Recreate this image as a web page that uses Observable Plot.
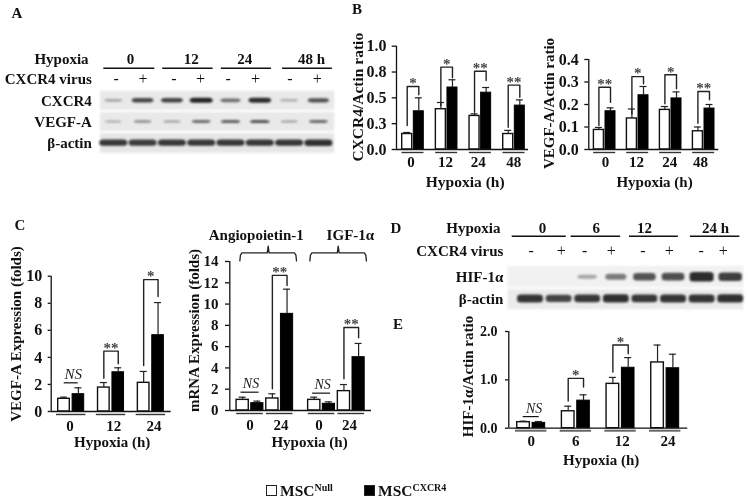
<!DOCTYPE html>
<html>
<head>
<meta charset="utf-8">
<script src="https://cdn.jsdelivr.net/npm/d3@7"></script>
<script src="https://cdn.jsdelivr.net/npm/@observablehq/plot@0.6"></script>
<style>
html,body{margin:0;padding:0;background:#fff;}
#page{position:relative;width:748px;height:500px;overflow:hidden;font-family:"Liberation Serif",serif;font-weight:bold;color:#111;filter:blur(0.3px);background:#fff;}
#page svg{position:absolute;overflow:visible;background:transparent;}
.tag{position:absolute;font-size:15px;line-height:1;transform:translate(-50%,-50%);}
.swatch{position:absolute;width:9px;height:9px;border:1.4px solid #222;}
.lg{position:absolute;font-size:15.5px;line-height:1;white-space:nowrap;}
.lg sup{font-size:10px;vertical-align:baseline;position:relative;top:-5px;}
</style>
</head>
<body>
<div id="page"></div>
<script>
// ---------- Panel B, CXCR4 ----------
const b1Groups = ["0","12","24","48"];
const b1Null = [0.15,0.39,0.325,0.15];
const b1NullErr = [0.165,0.455,0.345,0.185];
const b1Virus = [0.37,0.60,0.55,0.425];
const b1VirusErr = [0.50,0.675,0.60,0.48];
const b1BracketGroup = [0,1,2,3];
const b1BracketTop = [0.61,0.797,0.758,0.623];
const b1BracketLeft = [0.232,0.426,0.361,0.216];
const b1BracketRight = [0.529,0.694,0.668,0.506];
const b1Marks = ["*","*","**","**"];
// ---------- Panel B, VEGF-A ----------
const b2Groups = ["0","12","24","48"];
const b2Null = [0.087,0.138,0.176,0.081];
const b2NullErr = [0.098,0.18,0.191,0.10];
const b2Virus = [0.17,0.241,0.227,0.182];
const b2VirusErr = [0.185,0.28,0.256,0.20];
const b2BracketGroup = [0,1,2,3];
const b2BracketTop = [0.277,0.324,0.332,0.258];
const b2BracketLeft = [0.107,0.159,0.203,0.117];
const b2BracketRight = [0.21,0.292,0.27,0.221];
const b2Marks = ["**","*","*","**"];
// ---------- Panel C, VEGF-A ----------
const c1Groups = ["0","12","24"];
const c1Null = [0.94,1.77,2.12];
const c1NullErr = [1.06,2.14,2.96];
const c1Virus = [1.28,2.9,5.64];
const c1VirusErr = [1.75,3.23,8.05];
const c1BracketGroup = [1,2];
const c1BracketTop = [4.46,9.75];
const c1BracketLeft = [2.46,3.4];
const c1BracketRight = [3.52,8.5];
const c1Marks = ["**","*"];
const c1NsGroup = [0];
const c1NsLevel = [2.12];
// ---------- Panel C, mRNA ----------
const c2Groups = ["0","24","0","24"];
const c2Null = [1.0,1.13,1.0,1.82];
const c2NullErr = [1.25,1.57,1.25,2.44];
const c2Virus = [0.69,9.08,0.63,5.01];
const c2VirusErr = [0.88,11.4,0.81,6.3];
const c2BracketGroup = [1,3];
const c2BracketTop = [12.7,7.8];
const c2BracketLeft = [2.04,2.98];
const c2BracketRight = [11.74,6.83];
const c2Marks = ["**","**"];
const c2NsGroup = [0,2];
const c2NsLevel = [1.72,1.63];
const c2Genes = ["Angiopoietin-1","IGF-1α"];
// ---------- Panel E, HIF-1α ----------
const eGroups = ["0","6","12","24"];
const eNull = [0.124,0.35,0.917,1.36];
const eNullErr = [0.145,0.455,1.05,1.72];
const eVirus = [0.11,0.57,1.25,1.24];
const eVirusErr = [0.138,0.69,1.46,1.53];
const eBracketGroup = [1,2];
const eBracketTop = [1.03,1.72];
const eBracketLeft = [0.56,1.16];
const eBracketRight = [0.85,1.54];
const eMarks = ["*","*"];
const eNsGroup = [0];
const eNsLevel = [0.24];
// ---------- Blots, band strength per lane ----------
const aCxcr4Bands = [0.22,0.78,0.8,1,0.55,0.95,0.18,0.72];
const aVegfBands = [0.2,0.38,0.3,0.58,0.65,0.72,0.3,0.58];
const aActinBands = [0.88,0.85,0.88,0.88,0.88,0.88,0.88,0.92];
const dHifBands = [0,0,0.25,0.5,0.72,0.75,0.95,0.85];
const dActinBands = [0.9,0.8,0.88,0.92,0.88,0.9,0.9,0.92];
const blotSigns = ["-","+","-","+","-","+","-","+"];
const aHours = ["0","12","24","48 h"];
const dHours = ["0","6","12","24 h"];

const page = document.getElementById("page");
const FONT = '"Liberation Serif", serif';

function place(plot, box){
  plot.style.left = box[0] + "px";
  plot.style.top = box[1] + "px";
  page.appendChild(plot);
}

function barPanel(d, L){
  const [bl,bt,br,bb] = L.box;
  const u = px => (px - L.g0) / L.step;
  const off = L.off / L.step, hw = L.half / L.step, cap = L.cap / L.step, ul = L.under / L.step;
  const pos = L.positions || d.groups.map((_,i)=>i);
  const nullRows = pos.map((p,i)=>({p:p-off,v:d.nul[i],e:d.nulErr[i]}));
  const virusRows = pos.map((p,i)=>({p:p+off,v:d.vir[i],e:d.virErr[i]}));
  const allRows = nullRows.concat(virusRows);
  const brackets = d.brGroup.flatMap((g,i)=>[
    {id:i,x:pos[g]-off,y:d.brLeft[i]},{id:i,x:pos[g]-off,y:d.brTop[i]},
    {id:i,x:pos[g]+off,y:d.brTop[i]},{id:i,x:pos[g]+off,y:d.brRight[i]}]);
  const stars = d.brGroup.map((g,i)=>({x:pos[g],y:d.brTop[i],t:d.marks[i]}));
  const ns = (d.nsGroup||[]).map((g,i)=>({x:pos[g],y:d.nsLevel[i]}));
  const label = (t,px,py,rot) => Plot.text([t],{frameAnchor:"top-left",dx:px-L.axisX,dy:py-L.yTop,
    textAnchor:"middle",lineAnchor:"middle",rotate:rot||0,fontSize:L.titleSize||15,fontWeight:"bold",fill:"#111"});
  const marks = [
    Plot.rectY(nullRows,{x1:r=>r.p-hw,x2:r=>r.p+hw,y1:0,y2:"v",fill:"white",stroke:"#111",strokeWidth:1.4}),
    Plot.rectY(virusRows,{x1:r=>r.p-hw,x2:r=>r.p+hw,y1:0,y2:"v",fill:"#000",stroke:"#000",strokeWidth:1}),
    Plot.ruleX(allRows,{x:"p",y1:"v",y2:"e",stroke:"#222",strokeWidth:1.2}),
    Plot.ruleY(allRows,{y:"e",x1:r=>r.p-cap,x2:r=>r.p+cap,stroke:"#222",strokeWidth:1.2}),
    Plot.ruleX([u(L.axisX)],{y1:0,y2:d.max,stroke:"#111",strokeWidth:1.3}),
    Plot.ruleY([0],{x1:u(L.axisX),x2:u(L.right),stroke:"#111",strokeWidth:1.3}),
    Plot.ruleY(pos,{y:0,x1:p=>p-ul,x2:p=>p+ul,dy:L.underDy||3,stroke:L.underColor||"#333",strokeWidth:L.underWidth||1.4}),
    Plot.axisY({anchor:"left",ticks:d.ticks,tickFormat:d.fmt,tickSize:L.tickSize,tickPadding:L.tickPad,
      label:null,fontSize:L.tickFont,fontWeight:"bold",strokeWidth:1.3,stroke:"#111",fill:"#111"}),
    Plot.axisX({anchor:"bottom",ticks:L.labelAt,tickFormat:(_,i)=>d.groups[i],tickSize:0,tickPadding:L.xPad,
      label:null,fontSize:15,fontWeight:"bold",fill:"#111"}),
    Plot.line(brackets,{x:"x",y:"y",z:"id",stroke:"#222",strokeWidth:1.4}),
    Plot.text(stars,{x:"x",y:"y",text:"t",dy:L.starDy||-3,fontSize:15,fontWeight:"bold",fill:"#444",lineAnchor:"middle"}),
    Plot.ruleY(ns,{y:"y",x1:r=>r.x-L.nsHalf/L.step,x2:r=>r.x+L.nsHalf/L.step,stroke:"#111",strokeWidth:1.2}),
    Plot.text(ns,{x:r=>r.x+L.nsShift/L.step,y:"y",text:()=>"NS",dy:L.nsDy,fontSize:L.nsFont,fontWeight:"normal",fontStyle:"italic",fill:"#222",lineAnchor:"middle"}),
    label(d.yTitle,L.yTitleAt[0],L.yTitleAt[1],-90),
    label("Hypoxia (h)",L.xTitleAt[0],L.xTitleAt[1],0)
  ];
  if (L.extra) marks.push(...L.extra(u));
  const plot = Plot.plot({
    width: br-bl, height: bb-bt,
    marginLeft: L.axisX-bl, marginRight: br-L.right, marginTop: L.yTop-bt, marginBottom: bb-L.yBottom,
    x:{type:"linear",domain:[u(L.axisX),u(L.right)],label:null,axis:null},
    y:{type:"linear",domain:[0,d.max],label:null,axis:null},
    style:{fontFamily:FONT,background:"transparent",overflow:"visible"},
    marks
  });
  place(plot,L.box);
}

function blotPanel(b){
  const [bl,bt,br,bb] = b.box;
  const xr = v => b.first + b.step*v - bl;
  const yr = v => b.rowY + b.rowStep*v - bt;
  const bands = b.rows.flatMap((vals,r)=>vals.map((s,i)=>({lane:i,row:r,s,
     w:b.bandW[r]*(r===b.rows.length-1?1:(0.72+0.28*s)),
     th:b.bandH[r]*(b.thickBase+(1-b.thickBase)*s)}))).filter(d=>d.s>0);
  const backs = b.rows.map((_,r)=>({t:r+b.backTop[r],bt:r+b.backBottom[r],f:b.backFill[r]}));
  const txt = (data,o)=>Plot.text(data,{fontWeight:"bold",fontSize:15,fill:"#111",lineAnchor:"middle",...o});
  const plot = Plot.plot({
    width: br-bl, height: bb-bt, margin:0,
    x:{type:"linear",domain:[-4,9],range:[xr(-4),xr(9)],axis:null,label:null},
    y:{type:"linear",domain:[-4,3],range:[yr(-4),yr(3)],axis:null,label:null},
    style:{fontFamily:FONT,background:"transparent",overflow:"visible"},
    marks:[
      Plot.rect(backs,{x1:b.backX[0],x2:b.backX[1],y1:"t",y2:"bt",fill:d=>d.f}),
      Plot.rect(bands,{x1:d=>d.lane-d.w/2,x2:d=>d.lane+d.w/2,y1:d=>d.row-d.th/2,y2:d=>d.row+d.th/2,
        fill:"#222",fillOpacity:d=>0.15+0.85*d.s,rx:4,ry:2.5}),
      Plot.ruleY(b.lineSpans,{y:b.lineRow,x1:s=>s[0],x2:s=>s[1],stroke:"#111",strokeWidth:1.5}),
      txt(["Hypoxia"],{x:b.hypoxiaRight,y:b.hourRow,textAnchor:"end"}),
      txt(["CXCR4 virus"],{x:b.virusRight,y:b.signRow,textAnchor:"end"}),
      txt(b.rowLabels,{x:b.virusRight,y:(_,i)=>i,textAnchor:"end"}),
      txt(b.hours,{x:(_,i)=>b.hourAt[i],y:b.hourRow}),
      txt(blotSigns,{x:(_,i)=>b.signAt[i],y:b.signRow,fontWeight:"normal",fontSize:16})
    ]
  });
  plot.querySelectorAll('g[aria-label="rect"]').forEach(g=>g.style.filter="blur(0.9px)");
  place(plot,b.box);
}

// Panel A
blotPanel({
  box:[0,40,350,165], first:113.3, step:29.3, rowY:100.3, rowStep:21.2,
  rows:[aCxcr4Bands,aVegfBands,aActinBands], bandW:[0.78,0.72,0.95], bandH:[0.24,0.18,0.32], thickBase:0.4,
  backTop:[-0.45,-0.45,-0.45], backBottom:[0.45,0.45,0.47], backFill:["#e9e9e9","#e9e9e9","#e6e6e6"],
  backX:[-0.45,7.54], lineRow:-1.54, hourRow:-1.95, signRow:-1.04,
  lineSpans:[[-0.34,1.4],[1.67,3.39],[3.67,5.38],[5.76,7.46]],
  hours:aHours, hourAt:[0.57,2.64,4.47,6.75],
  signAt:[0.08,1.0,2.05,2.96,3.9,4.84,6.01,6.94],
  hypoxiaRight:-0.86, virusRight:-0.75, rowLabels:["CXCR4","VEGF-A","β-actin"]
});
// Panel B
barPanel({groups:b1Groups,nul:b1Null,nulErr:b1NullErr,vir:b1Virus,virErr:b1VirusErr,
  brGroup:b1BracketGroup,brTop:b1BracketTop,brLeft:b1BracketLeft,brRight:b1BracketRight,marks:b1Marks,
  max:1,ticks:[0,0.25,0.5,0.75,1],fmt:v=>v.toFixed(1),yTitle:"CXCR4/Actin ratio"},
 {box:[350,18,540,198],axisX:396,right:528,yTop:45.7,yBottom:149,g0:412.5,step:33.67,half:5,off:5.8,cap:3.5,under:11,
  tickSize:4.3,tickPad:5.7,tickFont:16,xPad:7,labelAt:[-0.06,0.965,1.936,2.995],
  yTitleAt:[357.5,96.7],xTitleAt:[464.7,182],titleSize:15.5});
barPanel({groups:b2Groups,nul:b2Null,nulErr:b2NullErr,vir:b2Virus,virErr:b2VirusErr,
  brGroup:b2BracketGroup,brTop:b2BracketTop,brLeft:b2BracketLeft,brRight:b2BracketRight,marks:b2Marks,
  max:0.4,ticks:[0,0.1,0.2,0.3,0.4],fmt:v=>v.toFixed(1),yTitle:"VEGF-A/Actin ratio"},
 {box:[540,18,748,198],axisX:588.3,right:718.3,yTop:59,yBottom:149,g0:604.2,step:33,half:5,off:5.8,cap:3.5,under:11,
  tickSize:4,tickPad:6,tickFont:16,xPad:7,labelAt:[0.025,0.965,1.97,2.9],
  yTitleAt:[549,103],xTitleAt:[654,182]});
// Panel C
barPanel({groups:c1Groups,nul:c1Null,nulErr:c1NullErr,vir:c1Virus,virErr:c1VirusErr,
  brGroup:c1BracketGroup,brTop:c1BracketTop,brLeft:c1BracketLeft,brRight:c1BracketRight,marks:c1Marks,
  nsGroup:c1NsGroup,nsLevel:c1NsLevel,
  max:10,ticks:[0,2,4,6,8,10],fmt:v=>String(v),yTitle:"VEGF-A Expression (folds)"},
 {box:[0,215,182,455],axisX:50.7,right:170.7,yTop:275.7,yBottom:411,g0:70.7,step:39.83,half:5.8,off:7.2,cap:3.5,under:14.7,
  tickSize:3,tickPad:6,tickFont:16,xPad:9,labelAt:[-0.03,1.07,2.08],
  nsHalf:7,nsShift:2,nsDy:-9,nsFont:15,
  yTitleAt:[16,333.5],xTitleAt:[111.7,442]});
barPanel({groups:c2Groups,nul:c2Null,nulErr:c2NullErr,vir:c2Virus,virErr:c2VirusErr,
  brGroup:c2BracketGroup,brTop:c2BracketTop,brLeft:c2BracketLeft,brRight:c2BracketRight,marks:c2Marks,
  nsGroup:c2NsGroup,nsLevel:c2NsLevel,
  max:14,ticks:[0,2,4,6,8,10,12,14],fmt:v=>String(v),yTitle:"mRNA Expression (folds)"},
 {box:[182,215,392,455],axisX:229.3,right:371,yTop:261,yBottom:410,g0:249.5,step:29.7,half:6.1,off:7.33,cap:3.5,under:13.3,
  positions:[0,1,2.41,3.41],tickSize:4.3,tickPad:7,tickFont:15,xPad:9,labelAt:[0,1.04,2.32,3.35],
  nsHalf:9,nsShift:1,nsDy:-9,nsFont:14,
  yTitleAt:[194,330],xTitleAt:[309,441.7],
  extra:()=>{
    const braces=[[-0.342,1.566,0.612],[2.015,3.92,2.97]].flatMap((s,i)=>[
      {id:i,x:s[0],y:14.05},{id:i,x:s[0]+0.02,y:14.6},{id:i,x:s[0]+0.07,y:14.81},
      {id:i,x:s[2]-0.03,y:14.81},{id:i,x:s[2],y:15.45},{id:i,x:s[2]+0.03,y:14.81},
      {id:i,x:s[1]-0.07,y:14.81},{id:i,x:s[1]-0.02,y:14.6},{id:i,x:s[1],y:14.05}]);
    return [
      Plot.line(braces,{x:"x",y:"y",z:"id",stroke:"#222",strokeWidth:1.3}),
      Plot.text(c2Genes,{x:(_,i)=>[0.21,3.38][i],y:16.44,fontSize:15,fontWeight:"bold",fill:"#111",lineAnchor:"middle"})
    ];
  }});
// Panel D
blotPanel({
  box:[392,218,748,316], first:530, step:28.6, rowY:276.7, rowStep:21.7,
  rows:[dHifBands,dActinBands], bandW:[0.85,0.9], bandH:[0.45,0.4], thickBase:0.2,
  backTop:[-0.49,-0.42], backBottom:[0.49,0.5], backFill:["#f1f1f1","#ebebeb"],
  backX:[-0.79,7.46], lineRow:-1.89, hourRow:-2.24, signRow:-1.2,
  lineSpans:[[-0.64,1.25],[1.42,3.15],[3.46,5.17],[5.59,7.32]],
  hours:dHours, hourAt:[0.42,2.3,3.99,6.47],
  signAt:[0.02,1.08,1.89,2.82,3.93,4.85,5.97,6.74],
  hypoxiaRight:-1.05, virusRight:-0.95, rowLabels:["HIF-1α","β-actin"]
});
// Panel E
barPanel({groups:eGroups,nul:eNull,nulErr:eNullErr,vir:eVirus,virErr:eVirusErr,
  brGroup:eBracketGroup,brTop:eBracketTop,brLeft:eBracketLeft,brRight:eBracketRight,marks:eMarks,
  nsGroup:eNsGroup,nsLevel:eNsLevel,
  max:2,ticks:[0,1,2],fmt:v=>v.toFixed(1),yTitle:"HIF-1α/Actin ratio"},
 {box:[392,318,748,472],axisX:508.3,right:687.3,yTop:331,yBottom:427.7,g0:530.7,step:44.67,half:6.3,off:7.67,cap:3.5,under:15.7,
  tickSize:3.3,tickPad:8,tickFont:14,xPad:7,labelAt:[0,1,2.04,3.06],underColor:"#666",underWidth:2,underDy:2.5,
  nsHalf:8,nsShift:3,nsDy:-8,nsFont:14,
  yTitleAt:[467.7,376],xTitleAt:[600.7,460]});

// Panel letters
[["A",17,13],["B",357,9],["C",20,225],["D",396,228],["E",398,324]].forEach(([t,x,y])=>{
  const e=document.createElement("div");e.className="tag";e.textContent=t;
  e.style.left=x+"px";e.style.top=y+"px";page.appendChild(e);
});
// Legend
const legend=[["Null",266,"#fff",280],["CXCR4",363.5,"#000",378]];
legend.forEach(([s,x,c,tx])=>{
  const sw=document.createElement("div");sw.className="swatch";
  sw.style.left=x+"px";sw.style.top="485px";sw.style.background=c;page.appendChild(sw);
  const l=document.createElement("div");l.className="lg";
  l.innerHTML="MSC<sup>"+s+"</sup>";l.style.left=tx+"px";l.style.top="483px";page.appendChild(l);
});
</script>
</body>
</html>
